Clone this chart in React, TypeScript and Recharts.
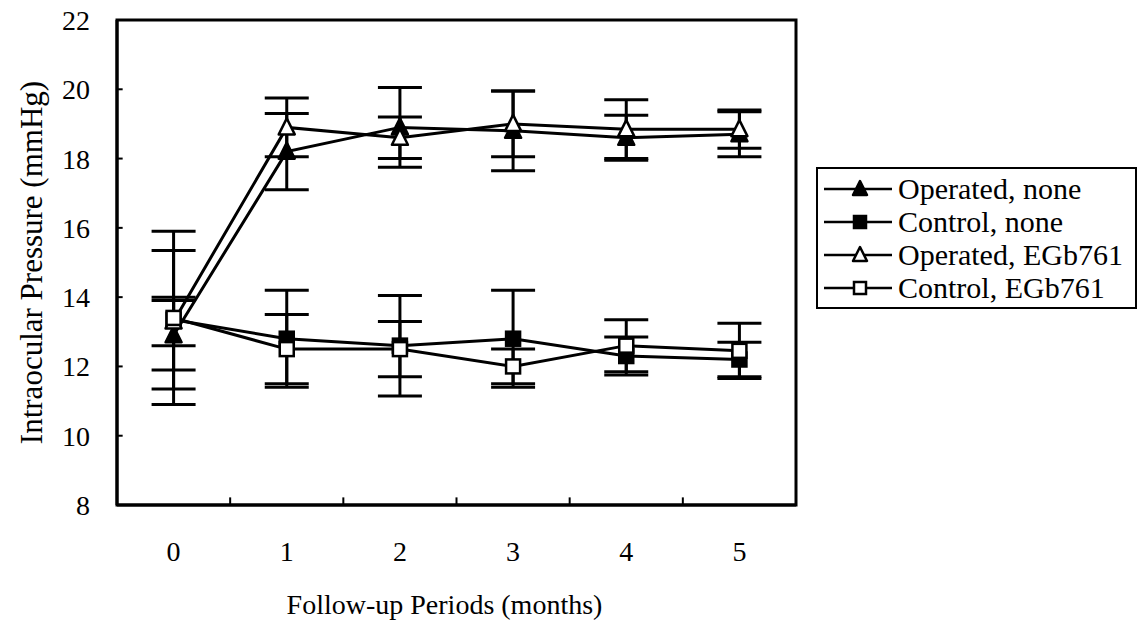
import React from 'react'
import {
  LineChart,
  Line,
  XAxis,
  YAxis,
  ErrorBar,
  ReferenceArea,
  ReferenceLine,
} from 'recharts'

// months after surgery
const months = [0, 1, 2, 3, 4, 5]

// mean IOP (mmHg) per group
const operatedNone = [12.9, 18.2, 18.9, 18.8, 18.6, 18.7]
const controlNone = [13.35, 12.8, 12.6, 12.8, 12.3, 12.2]
const operatedEgb = [13.3, 18.9, 18.6, 19.0, 18.85, 18.85]
const controlEgb = [13.4, 12.5, 12.5, 12.0, 12.6, 12.45]

// standard deviations
const operatedNoneSd = [1.0, 1.1, 1.15, 1.15, 0.65, 0.65]
const controlNoneSd = [2.0, 1.4, 1.45, 1.4, 0.55, 0.5]
const operatedEgbSd = [0.7, 0.85, 0.6, 0.95, 0.85, 0.55]
const controlEgbSd = [2.5, 1.0, 0.8, 0.5, 0.75, 0.8]

const yTicks = [8, 10, 12, 14, 16, 18, 20, 22]
const xInnerTicks = [0.5, 1.5, 2.5, 3.5, 4.5]
const yInnerTicks = [10, 12, 14, 16, 18, 20]

const legendNames = [
  'Operated, none',
  'Control, none',
  'Operated, EGb761',
  'Control, EGb761',
]

const data = months.map((m, i) => ({
  month: m,
  opNone: operatedNone[i],
  opNoneSd: operatedNoneSd[i],
  ctNone: controlNone[i],
  ctNoneSd: controlNoneSd[i],
  opEgb: operatedEgb[i],
  opEgbSd: operatedEgbSd[i],
  ctEgb: controlEgb[i],
  ctEgbSd: controlEgbSd[i],
}))

const FONT = 'Liberation Serif, Times New Roman, DejaVu Serif, serif'

type Shape = 'triangle' | 'square'

function Marker({ cx, cy, shape, filled, size = 16 }: { cx: number; cy: number; shape: Shape; filled: boolean; size?: number }) {
  const fill = filled ? '#000' : '#fff'
  const h = size / 2
  if (shape === 'triangle') {
    const pts = `${cx},${cy - h - 1} ${cx + h},${cy + h - 1} ${cx - h},${cy + h - 1}`
    return <polygon points={pts} fill={fill} stroke="#000" strokeWidth={2.5} strokeLinejoin="round" />
  }
  return <rect x={cx - h + 1} y={cy - h + 1} width={size - 2} height={size - 2} fill={fill} stroke="#000" strokeWidth={2.5} />
}

const makeDot = (shape: Shape, filled: boolean) => (props: any) => {
  const { cx, cy, index } = props
  return <Marker key={`${shape}-${filled}-${index}`} cx={cx} cy={cy} shape={shape} filled={filled} />
}

const legendMarkers: { shape: Shape; filled: boolean }[] = [
  { shape: 'triangle', filled: true },
  { shape: 'square', filled: true },
  { shape: 'triangle', filled: false },
  { shape: 'square', filled: false },
]

function LegendBox() {
  return (
    <div
      style={{
        position: 'absolute',
        left: 816,
        top: 167,
        width: 321,
        border: '2.5px solid #000',
        background: '#fff',
        padding: '3px 0 3px 4px',
        fontFamily: FONT,
        fontSize: 30,
        lineHeight: '33px',
        boxSizing: 'border-box',
      }}
    >
      {legendNames.map((name, i) => (
        <div key={name} style={{ display: 'flex', alignItems: 'center', height: 33 }}>
          <svg width={72} height={24}>
            <line x1={2} y1={12} x2={70} y2={12} stroke="#000" strokeWidth={2.5} />
            <Marker cx={38} cy={12} shape={legendMarkers[i].shape} filled={legendMarkers[i].filled} size={14} />
          </svg>
          <span style={{ marginLeft: 4, whiteSpace: 'nowrap' }}>{name}</span>
        </div>
      ))}
    </div>
  )
}

export default function App() {
  return (
    <div style={{ position: 'absolute', left: 0, top: 0, width: 1139, height: 628, background: '#fff' }}>
      <LineChart
        width={1139}
        height={628}
        data={data}
        margin={{ top: 20, right: 343, left: 27, bottom: 8 }}
        style={{ fontFamily: FONT }}
      >
        <XAxis
          dataKey="month"
          type="number"
          domain={[-0.5, 5.5]}
          ticks={months}
          tickLine={false}
          tickSize={0}
          tickMargin={36}
          height={115}
          axisLine={{ stroke: '#000', strokeWidth: 3 }}
          tick={{ fill: '#000', fontSize: 28, fontFamily: FONT }}
          label={{
            value: 'Follow-up Periods (months)',
            position: 'insideBottom',
            offset: 6,
            dx: -12,
            fill: '#000',
            fontSize: 28,
            fontFamily: FONT,
          }}
        />
        <YAxis
          domain={[8, 22]}
          ticks={yTicks}
          width={90}
          tickLine={false}
          tickSize={0}
          tickMargin={27}
          axisLine={{ stroke: '#000', strokeWidth: 3 }}
          tick={{ fill: '#000', fontSize: 28, fontFamily: FONT }}
          label={{
            value: 'Intraocular Pressure (mmHg)',
            angle: -90,
            position: 'insideLeft',
            offset: 0,
            dx: 4,
            style: { textAnchor: 'middle' },
            fill: '#000',
            fontSize: 31,
            fontFamily: FONT,
          }}
        />

        {/* plot frame */}
        <ReferenceArea x1={-0.5} x2={5.5} y1={8} y2={22} fill="none" stroke="#000" strokeWidth={3} fillOpacity={0} />

        {/* inward tick marks, Excel style */}
        {xInnerTicks.map((t) => (
          <ReferenceLine key={`xt${t}`} segment={[{ x: t, y: 8 }, { x: t, y: 8.22 }]} stroke="#000" strokeWidth={2} />
        ))}
        {yInnerTicks.map((t) => (
          <ReferenceLine key={`yt${t}`} segment={[{ x: -0.5, y: t }, { x: -0.45, y: t }]} stroke="#000" strokeWidth={2} />
        ))}

        <Line dataKey="opNone" name={legendNames[0]} stroke="#000" strokeWidth={3} dot={makeDot('triangle', true)} isAnimationActive={false}>
          <ErrorBar dataKey="opNoneSd" width={22} stroke="#000" strokeWidth={3} direction="y" />
        </Line>
        <Line dataKey="ctNone" name={legendNames[1]} stroke="#000" strokeWidth={3} dot={makeDot('square', true)} isAnimationActive={false}>
          <ErrorBar dataKey="ctNoneSd" width={22} stroke="#000" strokeWidth={3} direction="y" />
        </Line>
        <Line dataKey="opEgb" name={legendNames[2]} stroke="#000" strokeWidth={3} dot={makeDot('triangle', false)} isAnimationActive={false}>
          <ErrorBar dataKey="opEgbSd" width={22} stroke="#000" strokeWidth={3} direction="y" />
        </Line>
        <Line dataKey="ctEgb" name={legendNames[3]} stroke="#000" strokeWidth={3} dot={makeDot('square', false)} isAnimationActive={false}>
          <ErrorBar dataKey="ctEgbSd" width={22} stroke="#000" strokeWidth={3} direction="y" />
        </Line>
      </LineChart>
      <LegendBox />
    </div>
  )
}
